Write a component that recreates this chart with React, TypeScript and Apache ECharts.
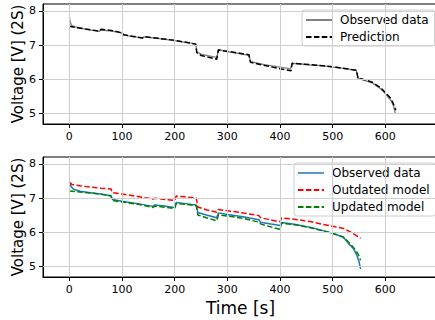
import React, { useEffect, useRef } from "react";
import * as echarts from "echarts";

// ---- Top panel data ----
const obsTopT = [0, 2, 5, 10, 30, 57, 60, 80, 99, 104, 120, 139, 142, 170, 200, 240, 242, 250, 265, 280, 283, 300, 320, 341, 344, 370, 400, 420, 423, 440, 460, 480, 500, 520, 545, 548, 560, 575, 590, 600, 610, 615, 619];
const obsTopV = [7.81, 7.65, 7.57, 7.54, 7.47, 7.40, 7.44, 7.41, 7.36, 7.29, 7.25, 7.21, 7.24, 7.19, 7.13, 7.04, 6.80, 6.74, 6.69, 6.64, 6.87, 6.81, 6.76, 6.70, 6.52, 6.43, 6.36, 6.31, 6.47, 6.45, 6.42, 6.40, 6.36, 6.32, 6.26, 6.04, 5.97, 5.90, 5.74, 5.59, 5.40, 5.25, 5.00];
const predTopT = [0, 10, 30, 57, 60, 80, 99, 104, 139, 142, 200, 240, 242, 250, 280, 283, 300, 341, 344, 400, 421, 423, 460, 500, 545, 548, 575, 590, 600, 610, 615, 620];
const predTopV = [7.55, 7.52, 7.47, 7.41, 7.46, 7.43, 7.36, 7.30, 7.21, 7.25, 7.14, 7.03, 6.78, 6.70, 6.59, 6.86, 6.82, 6.72, 6.50, 6.31, 6.25, 6.47, 6.43, 6.37, 6.27, 6.05, 5.92, 5.77, 5.62, 5.45, 5.30, 5.10];

// ---- Bottom panel data ----
const obsBotT = [0, 3, 8, 20, 40, 60, 79, 82, 100, 130, 159, 162, 180, 200, 203, 220, 241, 244, 260, 280, 283, 300, 330, 360, 363, 380, 400, 403, 430, 460, 480, 500, 520, 525, 530, 540, 546, 550, 553];
const obsBotV = [7.47, 7.35, 7.26, 7.20, 7.16, 7.12, 7.07, 6.96, 6.91, 6.84, 6.76, 6.80, 6.77, 6.73, 6.87, 6.84, 6.80, 6.58, 6.51, 6.43, 6.57, 6.52, 6.46, 6.37, 6.30, 6.25, 6.20, 6.29, 6.23, 6.14, 6.06, 5.98, 5.86, 5.78, 5.68, 5.52, 5.33, 5.15, 4.93];
const outdT = [0, 5, 20, 40, 60, 79, 82, 100, 130, 159, 162, 200, 203, 220, 241, 244, 260, 280, 283, 300, 330, 360, 363, 380, 400, 403, 430, 460, 480, 500, 520, 535, 553];
const outdV = [7.46, 7.40, 7.36, 7.32, 7.29, 7.27, 7.16, 7.12, 7.05, 6.97, 7.00, 6.93, 7.06, 7.04, 7.00, 6.74, 6.66, 6.59, 6.67, 6.63, 6.57, 6.49, 6.43, 6.37, 6.31, 6.42, 6.38, 6.31, 6.24, 6.18, 6.12, 6.00, 5.83];
const updT = [0, 20, 40, 60, 79, 82, 100, 130, 159, 162, 200, 203, 220, 241, 244, 260, 280, 283, 300, 330, 360, 363, 380, 400, 403, 430, 460, 480, 500, 520, 530, 540, 548, 553];
const updV = [7.21, 7.18, 7.15, 7.11, 7.07, 6.93, 6.89, 6.82, 6.73, 6.77, 6.70, 6.84, 6.82, 6.78, 6.51, 6.43, 6.34, 6.51, 6.48, 6.41, 6.30, 6.25, 6.17, 6.09, 6.27, 6.22, 6.13, 6.05, 5.97, 5.87, 5.72, 5.55, 5.38, 5.19];

// ---- Axis ticks ----
const xTicks = [0, 100, 200, 300, 400, 500, 600];
const yTicks = [5, 6, 7, 8];
const xRange = [-50, 700];
const yRange = [4.7, 8.2];

const zip = (t: number[], v: number[]) => t.map((x, i) => [x, v[i]]);

const FONT = "DejaVu Sans";
const GRID_COLOR = "#cfcfcf";

function gridLines() {
  return {
    silent: true,
    symbol: "none",
    label: { show: false },
    emphasis: { disabled: true },
    lineStyle: { color: GRID_COLOR, width: 1, type: "solid" },
    data: [...xTicks.map((x) => ({ xAxis: x })), ...yTicks.map((y) => ({ yAxis: y }))],
  };
}

export default function App() {
  const ref = useRef<HTMLDivElement>(null);
  useEffect(() => {
    if (!ref.current) return;
    const chart = echarts.init(ref.current, null, { renderer: "svg" });
    const xAxisBase = (gridIndex: number, withName: boolean) => ({
      type: "value",
      gridIndex,
      min: xRange[0],
      max: xRange[1],
      splitLine: { show: false },
      axisLine: { show: true, onZero: false, lineStyle: { color: "#000", width: 1 } },
      axisTick: { show: true, length: 4, customValues: xTicks, lineStyle: { color: "#000" } },
      axisLabel: { show: true, customValues: xTicks, color: "#000", fontSize: 11, fontFamily: FONT, margin: 7 },
      name: withName ? "Time [s]" : "",
      nameLocation: "middle",
      nameGap: 22,
      nameMoveOverlap: false,
      nameTextStyle: { fontSize: 17, fontFamily: FONT, color: "#000", verticalAlign: "top" },
    });
    const yAxisBase = (gridIndex: number) => ({
      type: "value",
      gridIndex,
      min: yRange[0],
      max: yRange[1],
      splitLine: { show: false },
      axisLine: { show: true, onZero: false, lineStyle: { color: "#000", width: 1 } },
      axisTick: { show: true, length: 4, customValues: yTicks, lineStyle: { color: "#000" } },
      axisLabel: { show: true, customValues: yTicks, color: "#000", fontSize: 11, fontFamily: FONT, margin: 7 },
      name: "Voltage [V] (2S)",
      nameLocation: "middle",
      nameRotate: 90,
      nameGap: 18,
      nameMoveOverlap: false,
      nameTextStyle: { fontSize: 15, fontFamily: FONT, color: "#000" },
    });
    const legendBase = {
      orient: "vertical",
      backgroundColor: "rgba(255,255,255,0.85)",
      borderColor: "#cccccc",
      borderWidth: 1,
      borderRadius: 3,
      itemWidth: 26,
      itemHeight: 12,
      itemGap: 5,
      padding: [4, 6, 3, 3],
      itemStyle: { opacity: 0 },
      textStyle: { fontSize: 12, fontFamily: FONT, color: "#000", padding: [0, 0, 0, 3] },
      selectedMode: false,
    };
    chart.setOption({
      animation: false,
      backgroundColor: "#fff",
      grid: [
        { left: 43, top: 4, width: 395, height: 120, show: true, borderColor: "#000", borderWidth: 1, backgroundColor: "transparent", outerBoundsMode: "none", containLabel: false },
        { left: 43, top: 157, width: 395, height: 120, show: true, borderColor: "#000", borderWidth: 1, backgroundColor: "transparent", outerBoundsMode: "none", containLabel: false },
      ],
      xAxis: [xAxisBase(0, false), xAxisBase(1, true)],
      yAxis: [yAxisBase(0), yAxisBase(1)],
      legend: [
        {
          ...legendBase,
          left: 302,
          top: 10,
          data: [{ name: "Observed data" }, { name: "Prediction" }],
        },
        {
          ...legendBase,
          left: 294,
          top: 163,
          data: [
            { name: "Observed data", lineStyle: { color: "#1f77b4", type: "solid", width: 1.5 } },
            { name: "Outdated model" },
            { name: "Updated model" },
          ],
        },
      ],
      series: [
        {
          type: "line",
          name: "Observed data",
          xAxisIndex: 0,
          yAxisIndex: 0,
          data: zip(obsTopT, obsTopV),
          symbol: "none",
          lineStyle: { color: "#808080", width: 1.3 },
          itemStyle: { color: "#808080" },
          markLine: gridLines(),
          z: 3,
        },
        {
          type: "line",
          name: "Prediction",
          xAxisIndex: 0,
          yAxisIndex: 0,
          data: zip(predTopT, predTopV),
          symbol: "none",
          lineStyle: { color: "#000", width: 1.5, type: [5.5, 2.4] },
          itemStyle: { color: "#000" },
          z: 4,
        },
        {
          type: "line",
          name: "Observed data",
          xAxisIndex: 1,
          yAxisIndex: 1,
          data: zip(obsBotT, obsBotV),
          symbol: "none",
          lineStyle: { color: "#1f77b4", width: 1.5 },
          itemStyle: { color: "#1f77b4" },
          markLine: gridLines(),
          z: 3,
        },
        {
          type: "line",
          name: "Outdated model",
          xAxisIndex: 1,
          yAxisIndex: 1,
          data: zip(outdT, outdV),
          symbol: "none",
          lineStyle: { color: "#ff0000", width: 1.5, type: [5.5, 2.4] },
          itemStyle: { color: "#ff0000" },
          z: 4,
        },
        {
          type: "line",
          name: "Updated model",
          xAxisIndex: 1,
          yAxisIndex: 1,
          data: zip(updT, updV),
          symbol: "none",
          lineStyle: { color: "#008000", width: 1.5, type: [5.5, 2.4] },
          itemStyle: { color: "#008000" },
          z: 4,
        },
      ],
    });
    return () => chart.dispose();
  }, []);
  return (
    <div
      ref={ref}
      style={{ position: "absolute", left: 0, top: 0, width: 435, height: 320 }}
    />
  );
}
